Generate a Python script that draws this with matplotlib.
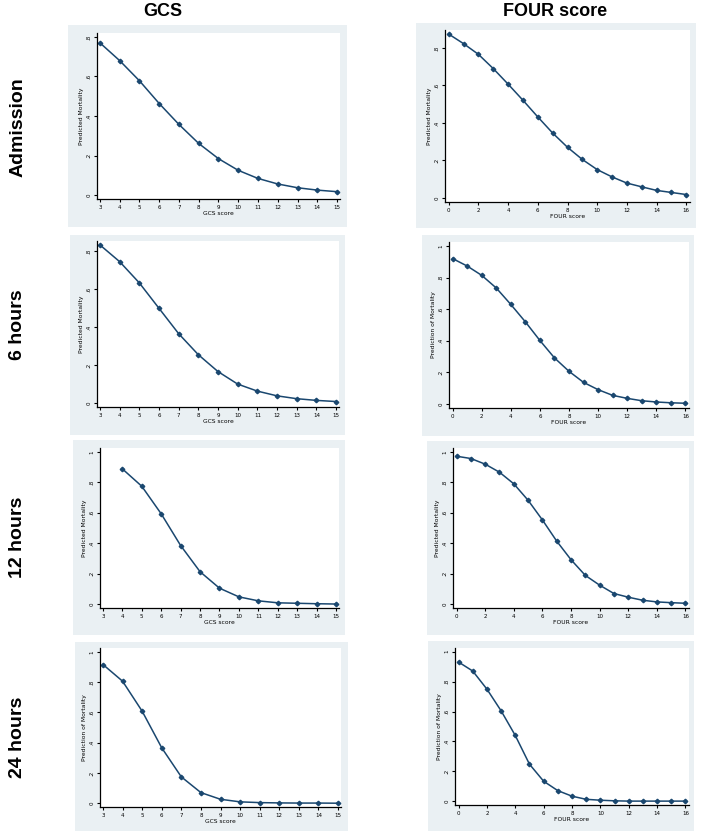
import numpy as np
import matplotlib
matplotlib.use("Agg")
import matplotlib.pyplot as plt
from matplotlib.patches import Rectangle

W, H = 702, 831

gcs_x = [3, 4, 5, 6, 7, 8, 9, 10, 11, 12, 13, 14, 15]
four_x = [0, 1, 2, 3, 4, 5, 6, 7, 8, 9, 10, 11, 12, 13, 14, 15, 16]

# predicted mortality
gcs_adm = [0.770, 0.680, 0.578, 0.463, 0.357, 0.261, 0.184, 0.125, 0.084, 0.056, 0.037, 0.025, 0.017]
four_adm = [0.874, 0.823, 0.766, 0.690, 0.607, 0.521, 0.432, 0.346, 0.270, 0.205, 0.151,
            0.112, 0.079, 0.059, 0.040, 0.029, 0.018]
gcs_6h = [0.834, 0.746, 0.634, 0.500, 0.366, 0.255, 0.166, 0.100, 0.063, 0.038, 0.023, 0.014, 0.008]
four_6h = [0.920, 0.873, 0.814, 0.734, 0.630, 0.520, 0.402, 0.292, 0.207, 0.137, 0.091,
           0.055, 0.036, 0.021, 0.013, 0.008, 0.005]
gcs_12h_x = [4, 5, 6, 7, 8, 9, 10, 11, 12, 13, 14, 15]
gcs_12h = [0.888, 0.774, 0.593, 0.385, 0.213, 0.105, 0.048, 0.022, 0.009, 0.006, 0.003, 0.001]
four_12h = [0.971, 0.956, 0.919, 0.866, 0.790, 0.682, 0.553, 0.414, 0.292, 0.189, 0.125,
            0.070, 0.046, 0.026, 0.015, 0.010, 0.006]
gcs_24h = [0.916, 0.806, 0.608, 0.366, 0.174, 0.070, 0.026, 0.009, 0.004, 0.002, 0.001, 0.001, 0.0]
four_24h = [0.931, 0.871, 0.750, 0.605, 0.440, 0.248, 0.134, 0.071, 0.034, 0.013, 0.007,
            0.003, 0.001, 0.001, 0.001, 0.001, 0.001]

col_titles = ["GCS", "FOUR score"]
row_titles = ["Admission", "6 hours", "12 hours", "24 hours"]

# (panel box, axes box) in pixels: left, top, right, bottom
panels = [
    dict(x=gcs_x, y=gcs_adm, top=0.8, lab="GCS score", ylab="Predicted Mortality",
         box=(68, 25, 347, 227), ax=(97, 33, 340, 199)),
    dict(x=four_x, y=four_adm, top=0.8, lab="FOUR score", ylab="Predicted Mortality",
         box=(416, 23, 696, 228), ax=(445, 30, 690, 202)),
    dict(x=gcs_x, y=gcs_6h, top=0.8, lab="GCS score", ylab="Predicted Mortality",
         box=(70, 235, 345, 435), ax=(97, 241, 339, 407)),
    dict(x=four_x, y=four_6h, top=1.0, lab="FOUR score", ylab="Prediction of Mortality",
         box=(422, 235, 694, 436), ax=(449, 242, 689, 408)),
    dict(x=gcs_12h_x, y=gcs_12h, top=1.0, lab="GCS score", ylab="Predicted Mortality",
         box=(73, 440, 345, 635), ax=(100, 448, 339, 608)),
    dict(x=four_x, y=four_12h, top=1.0, lab="FOUR score", ylab="Predicted Mortality",
         box=(427, 441, 694, 635), ax=(453, 448, 689, 608)),
    dict(x=gcs_x, y=gcs_24h, top=1.0, lab="GCS score", ylab="Prediction of Mortality",
         box=(75, 642, 348, 831), ax=(100, 648, 341, 807)),
    dict(x=four_x, y=four_24h, top=1.0, lab="FOUR score", ylab="Prediction of Mortality",
         box=(428, 641, 694, 831), ax=(455, 648, 689, 805)),
]

BG = "#eaf0f3"
LINE = "#1a476f"

fig = plt.figure(figsize=(W / 100, H / 100), dpi=100)


def fbox(l, t, r, b):
    return [l / W, 1 - b / H, (r - l) / W, (b - t) / H]


def fmt(v):
    s = ("%.1f" % v).rstrip("0").rstrip(".")
    if s.startswith("0."):
        s = s[1:]
    return s


for p in panels:
    l, t, r, b = p["box"]
    fig.patches.append(Rectangle((l / W, 1 - b / H), (r - l) / W, (b - t) / H,
                                 transform=fig.transFigure, facecolor=BG, edgecolor="none", zorder=-5))
    ax = fig.add_axes(fbox(*p["ax"]))
    ax.set_zorder(2)
    ax.set_facecolor("white")
    ax.plot(p["x"], p["y"], color=LINE, lw=1.1, marker="D", ms=2.3, mfc=LINE, mec=LINE)
    top = p["top"]
    upper = max(top, max(p["y"]))
    ax.set_ylim(-0.025 * upper, upper * 1.025)
    if p["lab"] == "GCS score":
        ax.set_xlim(2.85, 15.15)
        ax.set_xticks(range(3, 16))
    else:
        ax.set_xlim(-0.25, 16.25)
        ax.set_xticks(range(0, 17, 2))
    yt = np.round(np.arange(0, top + 0.01, 0.2), 1)
    ax.set_yticks(yt)
    ax.set_yticklabels([fmt(v) for v in yt], rotation=90, va="center")
    for s in ["top", "right"]:
        ax.spines[s].set_visible(False)
    for s in ["left", "bottom"]:
        ax.spines[s].set_linewidth(0.9)
    ax.tick_params(length=2.5, width=0.8, labelsize=4, pad=1.5)
    ax.set_xlabel(p["lab"], fontsize=4.3, labelpad=1)
    ax.set_ylabel(p["ylab"], fontsize=4.3, labelpad=2)

fig.text(163 / W, 1 - 11 / H, col_titles[0], ha="center", va="center",
         fontsize=13, fontweight="bold", family="Liberation Sans")
fig.text(555 / W, 1 - 11 / H, col_titles[1], ha="center", va="center",
         fontsize=13, fontweight="bold", family="Liberation Sans")
for name, yc in zip(row_titles, [127, 325, 537, 737]):
    fig.text(18 / W, 1 - yc / H, name, ha="center", va="center", rotation=90,
             fontsize=14, fontweight="bold", family="Liberation Sans")

fig.savefig("out.png", dpi=100)
